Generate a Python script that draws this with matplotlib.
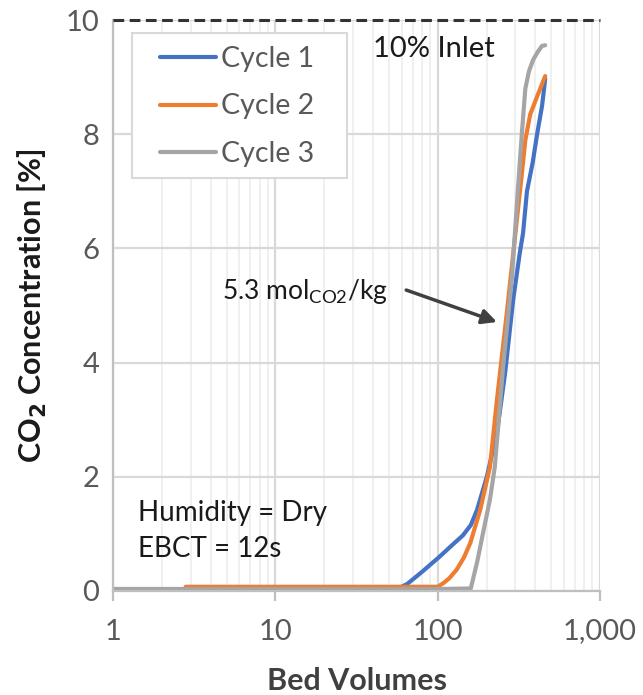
import matplotlib
matplotlib.use('Agg')
import matplotlib.pyplot as plt
from matplotlib.patches import Rectangle
from matplotlib.ticker import FixedLocator, LogLocator, NullFormatter

plt.rcParams['font.family'] = ['Lato', 'DejaVu Sans']

# breakthrough curves
bv1 = [1, 10, 40, 58, 65, 80, 103, 125, 143, 160, 175, 201, 232, 260, 292, 320, 336, 355, 385, 410, 440, 460]
co2_1 = [0.03, 0.03, 0.04, 0.05, 0.12, 0.33, 0.6, 0.82, 0.97, 1.15, 1.42, 2.0, 2.77, 3.8, 5.1, 5.9, 6.27, 7.0, 7.5, 8.0, 8.5, 8.97]

bv2 = [2.8, 10, 50, 100, 108, 118, 131, 145, 159, 183, 210, 232, 268, 309, 330, 347, 372, 415, 460]
co2_2 = [0.07, 0.07, 0.07, 0.07, 0.13, 0.22, 0.37, 0.58, 0.84, 1.42, 2.17, 3.35, 4.92, 6.55, 7.3, 7.9, 8.35, 8.7, 9.02]

bv3 = [1, 10, 100, 160, 175, 190, 210, 225, 253, 287, 309, 330, 347, 365, 387, 415, 440, 460]
co2_3 = [0.03, 0.03, 0.03, 0.04, 0.5, 1.0, 1.6, 2.17, 3.92, 5.5, 6.85, 8.0, 8.8, 9.1, 9.3, 9.45, 9.55, 9.56]

labels = ['Cycle 1', 'Cycle 2', 'Cycle 3']
colors = ['#4472c4', '#ed7d31', '#a5a5a5']
xticks = [1, 10, 100, 1000]
xticklabels = ['1', '10', '100', '1,000']
yticks = [0, 2, 4, 6, 8, 10]

fig = plt.figure(figsize=(6.43, 6.95), dpi=100)
ax = fig.add_axes([0.176, 0.150, 0.757, 0.821])

ax.set_xscale('log')
ax.set_xlim(1, 1000)
ax.set_ylim(0, 10)

# grid
ax.xaxis.set_major_locator(FixedLocator(xticks))
ax.xaxis.set_minor_locator(LogLocator(base=10, subs=range(2, 10)))
ax.xaxis.set_minor_formatter(NullFormatter())
ax.set_xticklabels(xticklabels)
ax.set_yticks(yticks)
ax.grid(True, which='major', axis='both', color='#d9d9d9', lw=1.6)
ax.grid(True, which='minor', axis='x', color='#eeeeee', lw=1.2)
ax.set_axisbelow(True)

ax.plot(bv1, co2_1, color=colors[0], lw=3, label=labels[0], solid_capstyle='round')
ax.plot(bv2, co2_2, color=colors[1], lw=3, label=labels[1], solid_capstyle='round')
ax.plot(bv3, co2_3, color=colors[2], lw=3, label=labels[2], solid_capstyle='round')

ax.axhline(10, color='#333333', lw=2.2, ls=(0, (3.5, 1.8)), clip_on=False, zorder=5)

for s in ['top', 'right']:
    ax.spines[s].set_visible(False)
for s in ['left', 'bottom']:
    ax.spines[s].set_color('#bfbfbf')
    ax.spines[s].set_linewidth(1.6)

ax.tick_params(axis='x', which='major', direction='out', length=7, width=1.6,
               color='#bfbfbf', labelsize=21, labelcolor='#595959', pad=13)
ax.tick_params(axis='x', which='minor', length=0)
ax.tick_params(axis='y', which='major', length=0, labelsize=21,
               labelcolor='#595959', pad=10)

ax.set_xlabel('Bed Volumes', fontsize=22, fontweight='bold', color='#404040', labelpad=16)
ax.set_ylabel('CO$_\\mathbf{2}$ Concentration [%]', fontsize=22, fontweight='bold',
              color='#1a1a1a', labelpad=12)

ax.text(40, 9.5, '10% Inlet', fontsize=21, color='#1a1a1a', va='center', ha='left')
ax.text(1.43, 1.37, 'Humidity = Dry', fontsize=20, color='#1a1a1a', va='center')
ax.text(1.43, 0.74, 'EBCT = 12s', fontsize=20, color='#1a1a1a', va='center')
ax.text(4.7, 5.24, '5.3 mol$_{\\mathregular{CO2}}$/kg', fontsize=19, color='#1a1a1a',
        va='center', ha='left')
ax.annotate('', xy=(232, 4.71), xytext=(64, 5.27),
            arrowprops=dict(arrowstyle='-|>', color='#404040', lw=2.5,
                            mutation_scale=22, shrinkA=0, shrinkB=0))

# legend box drawn separately (wider side padding than top/bottom)
ax.add_patch(Rectangle((0.039, 0.723), 0.441, 0.254, transform=ax.transAxes,
                       facecolor='white', edgecolor='#d9d9d9', lw=1.5, zorder=4))
leg = ax.legend(loc='upper left', bbox_to_anchor=(0.0965, 0.955), fontsize=20.5,
                frameon=False, handlelength=1.95, handletextpad=0.2,
                borderpad=0, borderaxespad=0, labelspacing=0.76)
leg.set_zorder(5)
for t in leg.get_texts():
    t.set_color('#595959')

fig.savefig('out.png', dpi=100)
